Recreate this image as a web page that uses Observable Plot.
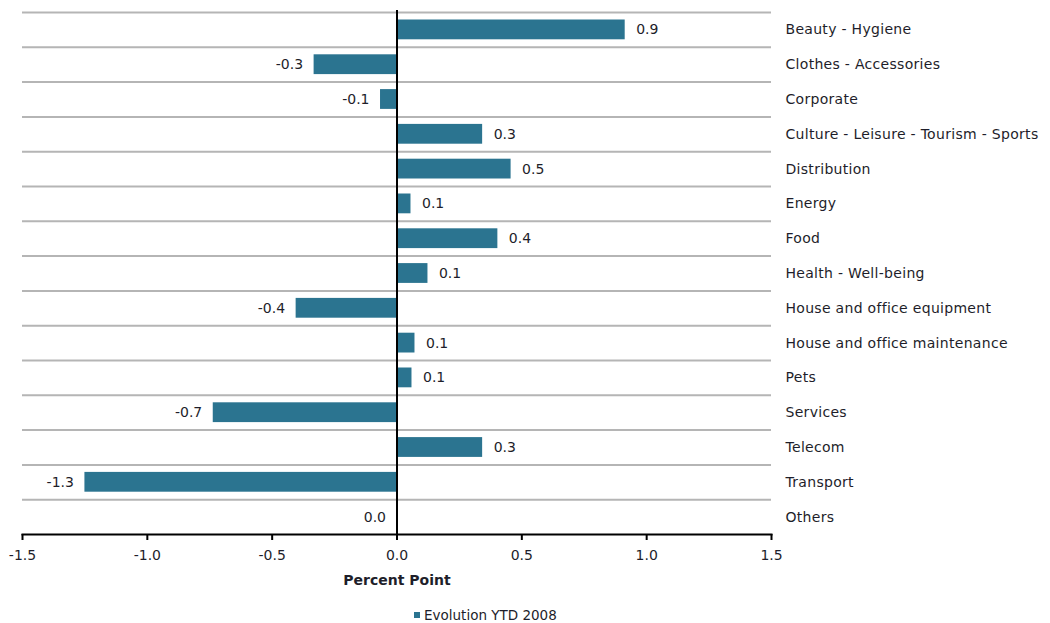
<!DOCTYPE html>
<html><head><meta charset="utf-8">
<script src="https://cdn.jsdelivr.net/npm/d3@7"></script>
<script src="https://cdn.jsdelivr.net/npm/@observablehq/plot@0.6"></script>
<style>
body{margin:0;background:#fff;font-family:"DejaVu Sans",Verdana,sans-serif;color:#1e1e2a;}
#chart svg{display:block;}
#chart g[aria-label="x-axis label"] text{font-weight:bold;}
#chart g[aria-label="y-axis tick label"] text{letter-spacing:0.3px;}
.legend{margin-top:11px;padding-left:414px;height:18px;line-height:18px;font-size:13.5px;white-space:nowrap;}
.legend .sw{display:inline-block;width:6px;height:6px;background:#2b7490;margin-right:4px;vertical-align:middle;position:relative;top:-1px;}
</style></head><body>
<div id="chart"></div>
<div class="legend"><span class="sw"></span><span id="legtext"></span></div>
<script>
const categories = ["Beauty - Hygiene","Clothes - Accessories","Corporate","Culture - Leisure - Tourism - Sports","Distribution","Energy","Food","Health - Well-being","House and office equipment","House and office maintenance","Pets","Services","Telecom","Transport","Others"];
const values = [0.914,-0.332,-0.066,0.343,0.457,0.056,0.404,0.124,-0.404,0.072,0.06,-0.736,0.343,-1.25,0];
const valueLabels = ["0.9","-0.3","-0.1","0.3","0.5","0.1","0.4","0.1","-0.4","0.1","0.1","-0.7","0.3","-1.3","0.0"];
const xTicks = [-1.5,-1,-0.5,0,0.5,1,1.5];
const seriesName = "Evolution YTD 2008";
const axisTitle = "Percent Point";
const barColor = "#2b7490";

const data = categories.map((c,i)=>({category:c, value:values[i], label:valueLabels[i]}));
const W = 1050, H = 595, mt = 12, mb = 61, ml = 22, mr = 279;
const band = (H - mt - mb) / categories.length;

const chart = Plot.plot({
  width: W, height: H,
  marginTop: mt, marginBottom: mb, marginLeft: ml, marginRight: mr,
  style: {fontFamily: '"DejaVu Sans", Verdana, sans-serif', fontSize: "14px", color: "#1e1e2a", background: "#fff"},
  x: {domain: [-1.5, 1.5], ticks: xTicks, tickFormat: d => d.toFixed(1), label: axisTitle, labelAnchor: "center", labelArrow: "none"},
  y: {domain: categories, padding: 0, round: false, label: null},
  marks: [
    Plot.ruleY(categories, {y: d => d, dy: -band/2, x1: -1.5, x2: 1.5, stroke: "#b5b5b5", strokeWidth: 2}),
    Plot.barX(data, {x: "value", y: "category", fill: barColor, insetTop: 7.5, insetBottom: 7.5}),
    Plot.text(data.filter(d => d.value > 0), {x: "value", y: "category", text: "label", textAnchor: "start", dx: 11, fill: "#1e1e2a", fontSize: 14}),
    Plot.text(data.filter(d => d.value <= 0), {x: "value", y: "category", text: "label", textAnchor: "end", dx: -11, fill: "#1e1e2a", fontSize: 14}),
    Plot.ruleX([0], {stroke: "black", strokeWidth: 2, insetTop: -2}),
    Plot.frame({anchor: "bottom", stroke: "black", strokeWidth: 2}),
    Plot.axisX({ticks: xTicks, tickFormat: d => d.toFixed(1), tickSize: 6, tickPadding: 10, strokeWidth: 2, stroke: "black", label: axisTitle, labelAnchor: "center", labelArrow: "none", labelOffset: 50, fontSize: 14}),
    Plot.axisY({anchor: "right", tickSize: 0, tickPadding: 14, textAnchor: "start", label: null, fontSize: 14})
  ]
});
document.getElementById("chart").appendChild(chart);
document.getElementById("legtext").textContent = seriesName;
</script>
</body></html>
